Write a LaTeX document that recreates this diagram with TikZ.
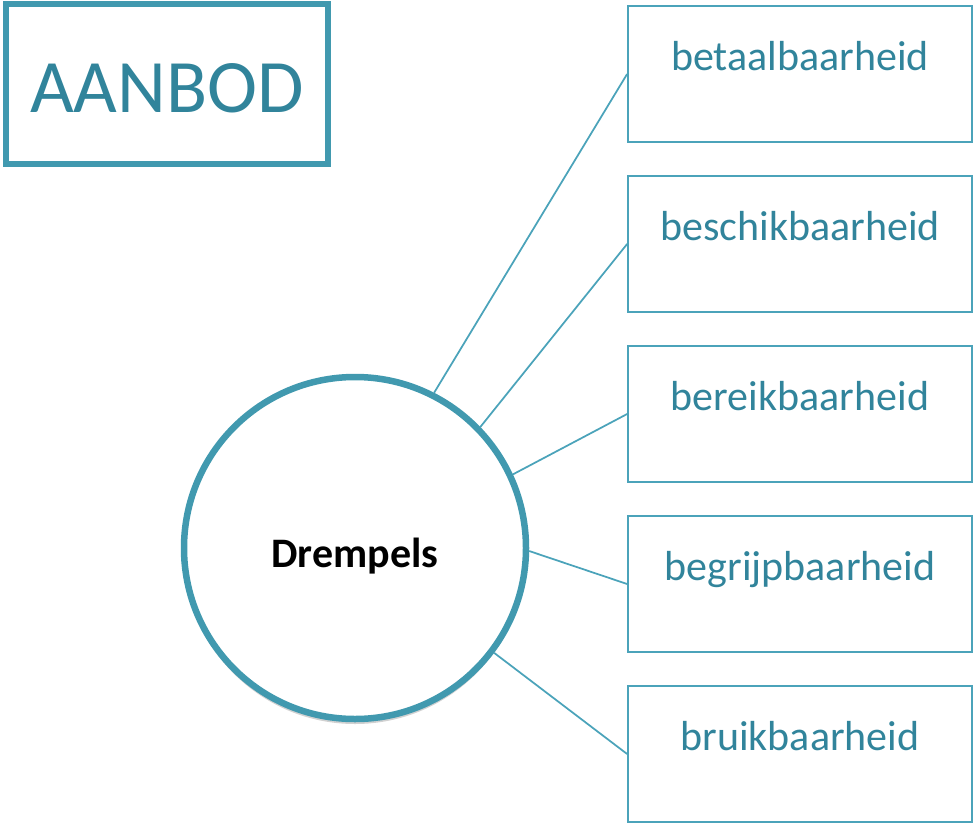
\documentclass[tikz,border=0pt]{standalone}
\usepackage{fontspec}
\setmainfont{Carlito}
\usetikzlibrary{shadows}
\definecolor{tealthick}{HTML}{4199AF}
\definecolor{tealtext}{HTML}{31849B}
\definecolor{tealline}{HTML}{4BA3BA}
\tikzset{
  itembox/.style={draw=tealline, line width=1.75pt, rectangle, minimum width=344pt,
    inner xsep=0pt, inner ysep=0pt, text height=64pt, text depth=72pt,
    text=tealtext, font=\fontsize{42}{50}\selectfont, anchor=center},
  conn/.style={draw=tealline, line width=1.75pt},
}
\begin{document}
\begin{tikzpicture}[x=1pt,y=-1pt]
\useasboundingbox (0,0) rectangle (974,825);
\node[draw=tealthick, line width=6pt, rectangle, minimum width=322pt, inner sep=0pt,
      text height=108pt, text depth=52pt, text=tealtext,
      font=\fontsize{75.5}{90}\selectfont] (aanbod) at (167,84) {AANBOD};
\node[circle, draw=tealthick, line width=6.5pt, fill=white, minimum size=342pt, inner sep=0pt,
      drop shadow={shadow xshift=0pt, shadow yshift=-5pt, opacity=0.18, fill=black}] (circ) at (355,548) {};
\node[font=\fontsize{42}{50}\selectfont\bfseries, anchor=base, inner sep=0pt] (drempels) at (355,567) {Drempels};
\node[itembox] (b1) at (800,74) {betaalbaarheid};
\node[itembox] (b2) at (800,244) {beschikbaarheid};
\node[itembox] (b3) at (800,414) {bereikbaarheid};
\node[itembox] (b4) at (800,584) {begrijpbaarheid};
\node[itembox] (b5) at (800,754) {bruikbaarheid};
\draw[conn] (b1.west) -- (circ.63);
\draw[conn] (b2.west) -- (circ.44.5);
\draw[conn] (b3.west) -- (circ.25.8);
\draw[conn] (b4.west) -- (circ.-1.3);
\draw[conn] (b5.west) -- (circ.-37);
\end{tikzpicture}
\end{document}
